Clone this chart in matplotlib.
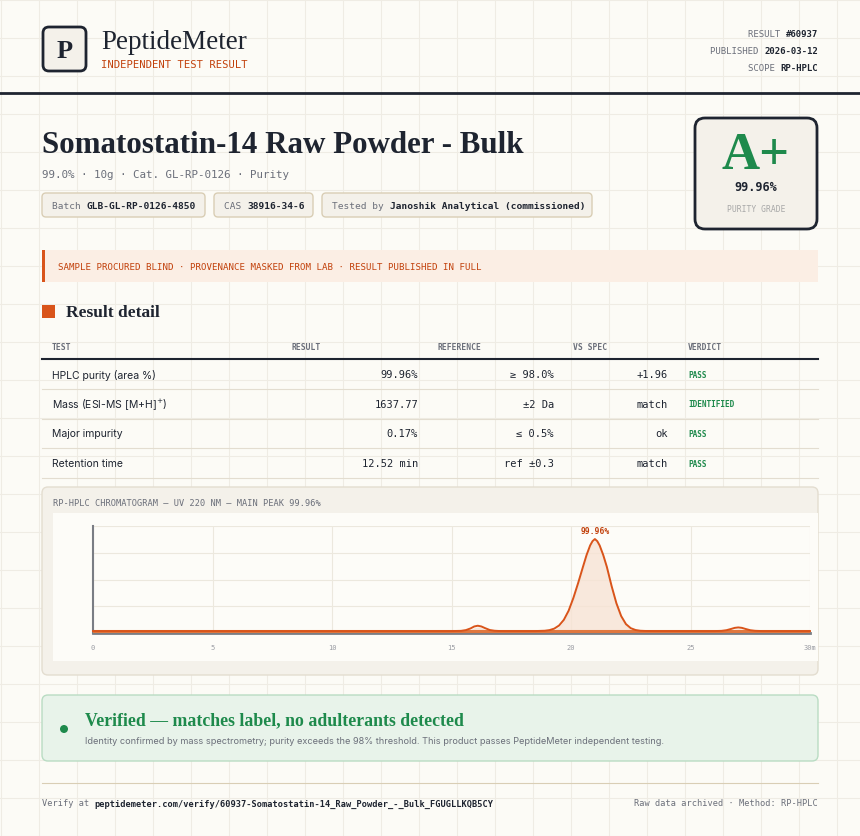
import numpy as np
import matplotlib.pyplot as plt
from matplotlib.patches import FancyBboxPatch, Rectangle, Circle

# chromatogram samples (minutes, % of axis height)
rt = [0, 15.0, 15.4, 15.6, 15.8, 15.95, 16.1, 16.25, 16.4, 16.6, 16.8, 17.0, 17.3,
      18.5, 18.9, 19.1, 19.3, 19.5, 19.7, 19.9, 20.1, 20.3, 20.5, 20.65, 20.8, 20.9, 21.0,
      21.1, 21.2, 21.35, 21.5, 21.7, 21.9, 22.1, 22.3, 22.5, 22.7, 22.9, 23.1, 23.5,
      26.0, 26.3, 26.5, 26.7, 26.85, 27.0, 27.15, 27.3, 27.5, 27.7, 28.0, 30]
signal = [0, 0, 0.2, 0.9, 2.5, 4.3, 5.0, 4.3, 2.8, 1.0, 0.3, 0.05, 0,
          0, 0.3, 0.9, 2.3, 5.2, 10.5, 19, 31, 45, 60, 71, 80, 84, 86,
          84, 80, 71, 60, 42, 26, 14, 6.5, 2.7, 1.0, 0.3, 0.1, 0,
          0, 0.2, 0.8, 2.0, 3.0, 3.4, 3.0, 2.0, 0.8, 0.25, 0, 0]
peak_rt = 21.0
peak_label = "99.96%"
x_ticks = [0, 5, 10, 15, 20, 25, 30]

tests = ["HPLC purity (area %)", "Mass (ESI-MS [M+H]$^{+}$)", "Major impurity", "Retention time"]
results = ["99.96%", "1637.77", "0.17%", "12.52 min"]
references = ["≥ 98.0%", "±2 Da", "≤ 0.5%", "ref ±0.3"]
vs_spec = ["+1.96", "match", "ok", "match"]
verdicts = ["PASS", "IDENTIFIED", "PASS", "PASS"]

DARK = "#1e2430"
GRAY = "#6b6f7a"
ORANGE = "#d9541a"
GREEN = "#1e8a4c"
CREAM = "#f4f1ea"
MONO = "DejaVu Sans Mono"
SERIF = "Liberation Serif"
SANS = "Inter"

fig = plt.figure(figsize=(8.6, 8.37), dpi=100)
fig.patch.set_facecolor("#fcfbf6")
bg = fig.add_axes([0, 0, 1, 1])
bg.set_xlim(0, 860)
bg.set_ylim(837, 0)
bg.axis("off")
for g in np.arange(0.5, 860, 38):
    bg.axvline(g, color="#efece4", lw=0.8, zorder=0)
for g in np.arange(0.5, 837, 38):
    bg.axhline(g, color="#efece4", lw=0.8, zorder=0)

renderer = fig.canvas.get_renderer()


def txt(x, y, s, **kw):
    kw.setdefault("va", "center")
    return bg.text(x, y, s, **kw)


def pair(x, y, a, b, size, ca=GRAY, cb=DARK, ha="left", family=MONO):
    # label + bold value, drawn as two pieces
    t1 = txt(0, y, a, fontsize=size, color=ca, family=family)
    t2 = txt(0, y, b, fontsize=size, color=cb, family=family, weight="bold")
    w1 = t1.get_window_extent(renderer).width
    w2 = t2.get_window_extent(renderer).width
    start = x if ha == "left" else x - w1 - w2
    t1.set_x(start)
    t2.set_x(start + w1)


def box(x0, y0, x1, y1, fc, ec, lw=1, r=4, z=1):
    bg.add_patch(FancyBboxPatch((x0, y0), x1 - x0, y1 - y0,
                                boxstyle=f"round,pad=0,rounding_size={r}",
                                fc=fc, ec=ec, lw=lw, zorder=z))


# header
box(43, 28, 86, 72, CREAM, DARK, lw=2, r=6)
txt(64.5, 51, "P", fontsize=19, family=SERIF, color=DARK, ha="center", weight="bold")
txt(101, 42, "PeptideMeter", fontsize=19.5, family=SERIF, color=DARK)
txt(101, 65, "INDEPENDENT TEST RESULT", fontsize=7.6, family=MONO, color="#c2410c")
pair(818, 34, "RESULT ", "#60937", 6.5, ha="right")
pair(818, 51, "PUBLISHED ", "2026-03-12", 6.5, ha="right")
pair(818, 68, "SCOPE ", "RP-HPLC", 6.5, ha="right")
bg.plot([0, 860], [94, 94], color=DARK, lw=2)

# title block
txt(42, 145, "Somatostatin-14 Raw Powder - Bulk", fontsize=22.3, family=SERIF, weight="bold", color=DARK)
txt(42, 175, "99.0% · 10g · Cat. GL-RP-0126 · Purity", fontsize=7.8, family=MONO, color=GRAY)
for x0, x1, a, b in [(42, 205, "Batch ", "GLB-GL-RP-0126-4850"),
                     (214, 313, "CAS ", "38916-34-6"),
                     (322, 592, "Tested by ", "Janoshik Analytical (commissioned)")]:
    box(x0, 194, x1, 218, CREAM, "#d9ceb5", r=4)
    pair(x0 + 10, 206, a, b, 6.8)

box(695, 119, 817, 230, CREAM, DARK, lw=2, r=10)
txt(756, 156, "A+", fontsize=38, family=SERIF, weight="bold", color=GREEN, ha="center")
txt(756, 187, "99.96%", fontsize=8.5, family=MONO, weight="bold", color=DARK, ha="center")
txt(756, 209, "PURITY GRADE", fontsize=5.8, family=MONO, color="#a8a8a8", ha="center")

# banner
bg.add_patch(Rectangle((42, 251), 776, 32, fc="#fbeee4", ec="none"))
bg.add_patch(Rectangle((42, 251), 3, 32, fc=ORANGE, ec="none"))
txt(58, 267, "SAMPLE PROCURED BLIND · PROVENANCE MASKED FROM LAB · RESULT PUBLISHED IN FULL",
    fontsize=6.6, family=MONO, color="#c2410c")

# result table
bg.add_patch(Rectangle((42, 306), 13, 13, fc=ORANGE, ec="none"))
txt(66, 313, "Result detail", fontsize=12.5, family=SERIF, weight="bold", color=DARK)
for x, h in zip([52, 292, 438, 573, 688], ["TEST", "RESULT", "REFERENCE", "VS SPEC", "VERDICT"]):
    txt(x, 347, h, fontsize=5.8, family=MONO, weight="bold", color=GRAY)
bg.plot([42, 818], [360, 360], color=DARK, lw=1.5)
for i in range(len(tests)):
    y = 375 + i * 29.7
    txt(52, y, tests[i], fontsize=7.5, family=SANS, color=DARK)
    txt(418, y, results[i], fontsize=7.5, family=MONO, color=DARK, ha="right")
    txt(554, y, references[i], fontsize=7.5, family=MONO, color=DARK, ha="right")
    txt(668, y, vs_spec[i], fontsize=7.5, family=MONO, color=DARK, ha="right")
    txt(688, y, verdicts[i], fontsize=5.6, family=MONO, weight="bold", color=GREEN)
    bg.plot([42, 818], [y + 15, y + 15], color="#e3ddd0", lw=0.8)

# chromatogram panel
box(42, 488, 818, 676, CREAM, "#e3ddd0", r=6)
txt(53, 503, "RP-HPLC CHROMATOGRAM — UV 220 NM — MAIN PEAK 99.96%", fontsize=6.2, family=MONO, color=GRAY)
bg.add_patch(Rectangle((53, 514), 765, 148, fc="#fdfcf8", ec="none", zorder=1))

ax = fig.add_axes([93 / 860, 1 - 634 / 837, 717 / 860, 107 / 837])
ax.set_facecolor("none")
ax.set_xlim(0, 30)
ax.set_ylim(0, 100)
ax.set_xticks(x_ticks)
ax.set_xticklabels([str(t) for t in x_ticks[:-1]] + ["30m"])
ax.set_yticks([25, 50, 75, 100])
ax.set_yticklabels([])
ax.tick_params(length=0, labelsize=5, labelcolor="#9a9ca3", pad=8)
for lab in ax.get_xticklabels():
    lab.set_family(MONO)
ax.grid(color="#ece8de", lw=0.8)
for s in ["top", "right"]:
    ax.spines[s].set_visible(False)
ax.spines["left"].set_color("#7a7d84")
ax.spines["bottom"].set_color("#7a7d84")
ax.spines["left"].set_linewidth(1.5)
ax.spines["bottom"].set_linewidth(2)
ax.fill_between(rt, signal, color="#f7e3d5", alpha=0.8, zorder=2)
ax.plot([0, 30], [1.8, 1.8], color="#e0773f", lw=2.2, zorder=3)
ax.plot(rt, np.array(signal) + 1.8, color=ORANGE, lw=1.4, zorder=3, clip_on=False)
ax.text(peak_rt, max(signal) + 6, peak_label, ha="center", va="bottom", fontsize=5.8,
        family=MONO, weight="bold", color="#c2410c")

# verified box
box(42, 696, 818, 762, "#e8f3ea", "#b9dcc3", r=6)
bg.add_patch(Circle((64, 730), 4, fc=GREEN, ec="none", zorder=2))
txt(85, 721, "Verified — matches label, no adulterants detected", fontsize=12.8, family=SERIF,
    weight="bold", color=GREEN)
txt(85, 742, "Identity confirmed by mass spectrometry; purity exceeds the 98% threshold. "
    "This product passes PeptideMeter independent testing.", fontsize=6.6, family=SANS, color=GRAY)

# footer
bg.plot([42, 818], [784, 784], color="#d9ceb5", lw=0.8)
pair(42, 804, "Verify at ", "peptidemeter.com/verify/60937-Somatostatin-14_Raw_Powder_-_Bulk_FGUGLLKQB5CY", 6.2)
txt(818, 804, "Raw data archived · Method: RP-HPLC", fontsize=6.2, family=MONO, color=GRAY, ha="right")

fig.savefig("out.png", dpi=100, facecolor=fig.get_facecolor())
